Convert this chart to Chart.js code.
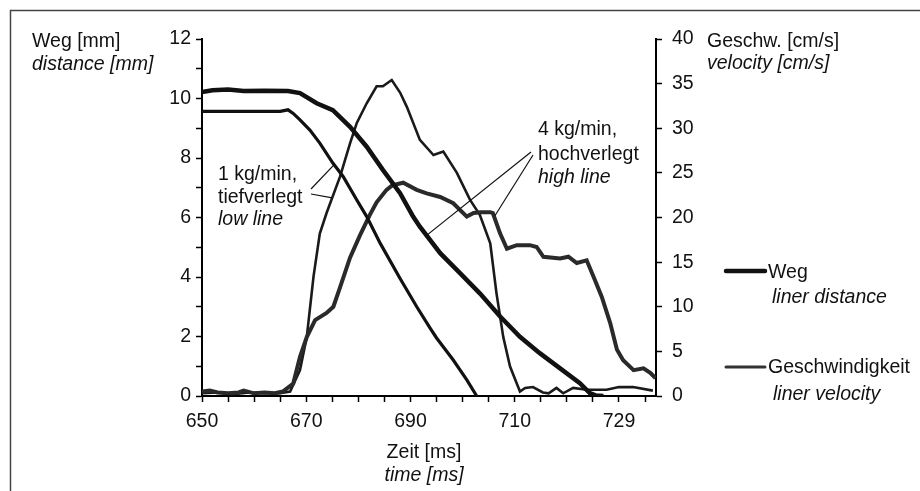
<!DOCTYPE html>
<html>
<head>
<meta charset="utf-8">
<script src="https://cdn.jsdelivr.net/npm/chart.js@4.4.1/dist/chart.umd.min.js"></script>
<style>
  html, body { margin: 0; padding: 0; background: #ffffff; }
  #wrap { width: 920px; height: 491px; position: relative; }
</style>
</head>
<body>
<div id="wrap"><canvas id="c" width="920" height="491"></canvas></div>
<script>
// ---- data ----
const xTickValues = [650, 670, 690, 710, 730];
const xTickLabels = ['650', '670', '690', '710', '729'];

// Weg, 4 kg/min hochverlegt (high line)
const distHighT = [650, 652, 655, 658, 662, 666.5, 668.8, 672, 675.1, 678.4, 681.6, 684.7, 688, 690.5, 691.8, 695.7, 699.5, 703.3, 707.2, 711, 714.8, 718.7, 722.5, 724.4, 725.5, 727];
const distHigh  = [10.22, 10.28, 10.3, 10.25, 10.26, 10.25, 10.18, 9.84, 9.61, 9.05, 8.38, 7.6, 6.82, 6.03, 5.69, 4.8, 4.13, 3.45, 2.67, 1.99, 1.44, 0.93, 0.43, 0.1, 0.02, 0];

// Weg, 1 kg/min tiefverlegt (low line)
const distLowT = [650, 660, 665, 666.5, 667.5, 668.8, 670.7, 672.6, 675.1, 677.1, 679.7, 681.6, 684.2, 688, 691.2, 693.7, 695, 698.2, 700.8, 702.7];
const distLow  = [9.57, 9.57, 9.57, 9.62, 9.5, 9.28, 8.94, 8.5, 7.83, 7.37, 6.59, 6.03, 5.13, 3.95, 3.0, 2.3, 1.95, 1.21, 0.54, 0];

// Geschwindigkeit, 1 kg/min tiefverlegt (low line)
const velLowT = [650, 653, 656, 659, 662, 665, 666.9, 668.8, 670.1, 671.4, 672.6, 673.9, 676.5, 678.4, 679.7, 681.6, 683.5, 684.7, 686.4, 688, 689.3, 691.8, 694.4, 696.3, 698.9, 701.4, 703.3, 705.3, 706.5, 707.8, 709.1, 711, 712, 713.5, 715.4, 716.5, 718, 719.3, 721.2, 723.8, 727.6, 730, 732.7, 736.5];
const velLow  = [0.3, 0.4, 0.2, 0.4, 0.3, 0.3, 0.5, 2.9, 6.6, 13.4, 18.2, 20.5, 24.6, 28.3, 30.6, 32.8, 34.7, 34.7, 35.4, 34, 32.4, 28.7, 27, 27.4, 25, 22, 20.3, 17.1, 11.5, 6.6, 3.3, 0.5, 0.9, 1.0, 0.4, 0.3, 0.9, 0.3, 0.9, 0.7, 0.7, 1.0, 1.0, 0.6];

// Geschwindigkeit, 4 kg/min hochverlegt (high line)
const velHighT = [650, 651.5, 653, 655, 657, 658, 660, 662, 664, 665.5, 667.5, 668.8, 670.1, 671.7, 673.9, 675.2, 676.5, 678.4, 680.3, 682.2, 683.5, 685.4, 686.5, 688.6, 691.2, 693.1, 695.7, 698.2, 700.8, 702.1, 703.5, 705.3, 705.8, 707.2, 708.5, 710.4, 712.9, 714.2, 715.5, 718.7, 720.3, 721.9, 723.8, 725.1, 726.7, 728.3, 729.6, 730.8, 732.8, 734.7, 736, 737];
const velHigh  = [0.5, 0.6, 0.4, 0.3, 0.4, 0.6, 0.3, 0.4, 0.3, 0.5, 1.4, 4.4, 6.6, 8.5, 9.3, 10, 12.2, 15.5, 18, 20.3, 21.7, 23.1, 23.6, 23.9, 23.1, 22.7, 22.3, 21.6, 20.1, 20.5, 20.6, 20.6, 20.5, 18.2, 16.5, 16.9, 16.9, 16.7, 15.6, 15.4, 15.6, 14.9, 15.2, 13.4, 11.1, 8.2, 5.2, 4.0, 2.9, 3.1, 2.6, 2.0];

const pairs = (t, v) => t.map((x, i) => ({ x: x, y: v[i] }));

const FONT = '"Liberation Sans", Arial, Helvetica, sans-serif';
const FS = 19.5;

const overlay = {
  id: 'overlay',
  afterDraw(chart) {
    const ctx = chart.ctx;
    const xs = chart.scales.x, yl = chart.scales.y, yr = chart.scales.y2;
    ctx.save();
    // outer frame (top and left edges visible)
    ctx.strokeStyle = '#444';
    ctx.lineWidth = 1.5;
    ctx.beginPath();
    ctx.moveTo(920, 10.5);
    ctx.lineTo(10.5, 10.5);
    ctx.lineTo(10.5, 491);
    ctx.stroke();

    ctx.fillStyle = '#111';
    ctx.textBaseline = 'alphabetic';
    const txt = (s, x, y, italic, align) => {
      ctx.font = (italic ? 'italic ' : '') + FS + 'px ' + FONT;
      ctx.textAlign = align || 'left';
      ctx.fillText(s, x, y);
    };
    // axis titles
    txt('Weg [mm]', 32, 47);
    txt('distance [mm]', 32, 70, true);
    txt('Geschw. [cm/s]', 707, 47);
    txt('velocity [cm/s]', 707, 69, true);
    txt('Zeit [ms]', 424, 458, false, 'center');
    txt('time [ms]', 424, 481, true, 'center');

    // annotations
    txt('1 kg/min,', 218, 180);
    txt('tiefverlegt', 218, 203);
    txt('low line', 218, 225, true);
    txt('4 kg/min,', 538, 135);
    txt('hochverlegt', 538, 160);
    txt('high line', 538, 183, true);

    ctx.strokeStyle = '#111';
    ctx.lineWidth = 1.2;
    const lead = (x0, y0, x1, y1) => { ctx.beginPath(); ctx.moveTo(x0, y0); ctx.lineTo(x1, y1); ctx.stroke(); };
    lead(311, 189, xs.getPixelForValue(675.5), yl.getPixelForValue(7.8));
    lead(311, 194, xs.getPixelForValue(675.0), yr.getPixelForValue(22.2));
    lead(531, 152, xs.getPixelForValue(693.1), yl.getPixelForValue(5.4));
    lead(533, 155, xs.getPixelForValue(706.2), yr.getPixelForValue(20.2));

    // legend
    ctx.lineCap = 'round';
    ctx.strokeStyle = '#111';
    ctx.lineWidth = 4.5;
    lead(726, 271, 765, 271);
    ctx.strokeStyle = '#333';
    ctx.lineWidth = 3;
    lead(726, 367, 765, 367);
    txt('Weg', 768, 278);
    txt('liner distance', 772, 303, true);
    txt('Geschwindigkeit', 768, 373);
    txt('liner velocity', 773, 400, true);
    ctx.restore();
  }
};

const tickFont = { family: FONT, size: FS };

new Chart(document.getElementById('c'), {
  type: 'line',
  data: {
    datasets: [
      { label: 'Weg 4 kg/min', data: pairs(distHighT, distHigh), yAxisID: 'y', borderColor: '#111', borderWidth: 4.5, pointRadius: 0, tension: 0 },
      { label: 'Weg 1 kg/min', data: pairs(distLowT, distLow), yAxisID: 'y', borderColor: '#111', borderWidth: 3.2, pointRadius: 0, tension: 0 },
      { label: 'Geschw. 4 kg/min', data: pairs(velHighT, velHigh), yAxisID: 'y2', borderColor: '#2a2a2a', borderWidth: 4, pointRadius: 0, tension: 0 },
      { label: 'Geschw. 1 kg/min', data: pairs(velLowT, velLow), yAxisID: 'y2', borderColor: '#1a1a1a', borderWidth: 2.6, pointRadius: 0, tension: 0 }
    ]
  },
  options: {
    responsive: false,
    animation: false,
    devicePixelRatio: 1,
    layout: { padding: { top: 39, left: 0, right: 0, bottom: 0 } },
    plugins: { legend: { display: false }, tooltip: { enabled: false }, title: { display: false } },
    scales: {
      x: {
        type: 'linear', min: 650, max: 737.1,
        afterFit: s => { s.height = 95; },
        border: { display: true, color: '#000', width: 2 },
        grid: { display: true, drawOnChartArea: false, drawTicks: true, tickLength: 6, tickColor: '#000', tickWidth: 1.5 },
        ticks: {
          stepSize: 5, includeBounds: false, autoSkip: false, maxRotation: 0, padding: 8,
          color: '#111', font: tickFont,
          callback: v => { const i = xTickValues.indexOf(v); return i >= 0 ? xTickLabels[i] : ''; }
        }
      },
      y: {
        position: 'left', min: 0, max: 12,
        afterFit: s => { s.width = 202; },
        border: { display: true, color: '#000', width: 2 },
        grid: { display: true, drawOnChartArea: false, drawTicks: true, tickLength: 6, tickColor: '#000', tickWidth: 1.5 },
        ticks: { stepSize: 1, autoSkip: false, padding: 5, color: '#111', font: tickFont,
          callback: v => (v % 2 === 0 ? String(v) : '') }
      },
      y2: {
        position: 'right', min: 0, max: 40,
        afterFit: s => { s.width = 264; },
        border: { display: true, color: '#000', width: 2 },
        grid: { display: true, drawOnChartArea: false, drawTicks: true, tickLength: 6, tickColor: '#000', tickWidth: 1.5 },
        ticks: { stepSize: 5, autoSkip: false, padding: 10, color: '#111', font: tickFont }
      }
    }
  },
  plugins: [overlay]
});
</script>
</body>
</html>
